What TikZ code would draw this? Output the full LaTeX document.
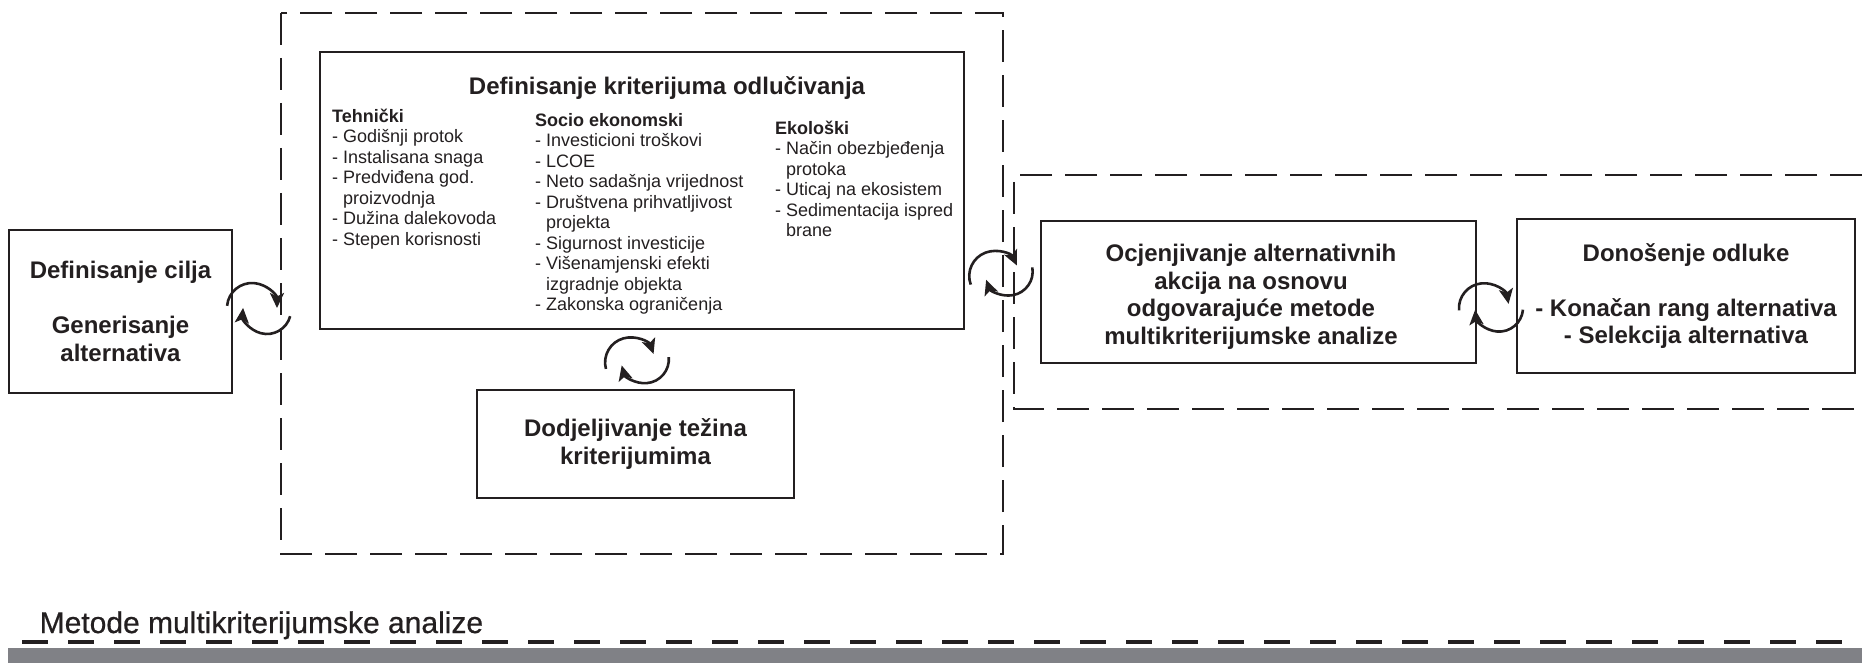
\documentclass[tikz,border=0pt]{standalone}
\usepackage{fontspec}
\setmainfont{Liberation Sans}
\usetikzlibrary{arrows.meta}

\definecolor{crna}{RGB}{35,31,32}
\definecolor{traka}{RGB}{128,129,134}

\begin{document}
\begin{tikzpicture}[x=1pt,y=-1pt,
  tekst/.style={inner sep=0pt, align=center, text=crna,
    font=\fontsize{24}{27.5}\selectfont\bfseries},
  kutija/.style={tekst, draw=crna, line width=2.5pt},
  okvir/.style={draw=crna, line width=2.5pt, dash pattern=on 32pt off 13pt},
  kolona/.style={anchor=north west, inner sep=0pt, align=left, text=crna,
    font=\fontsize{18}{20.5}\selectfont},
  ciklus/.pic={
    \draw[crna, line width=2.6pt, -{Stealth[length=15pt,width=14pt,inset=3.5pt]}]
      (-7pt,1pt) ++(175:25pt) arc[start angle=175, end angle=0, radius=25pt];
    \draw[crna, line width=2.6pt, -{Stealth[length=15pt,width=14pt,inset=3.5pt]}]
      (8pt,-1pt) ++(-15:24pt) arc[start angle=-15, end angle=-185, radius=24pt];
  }]
\useasboundingbox (0,0) rectangle (1862,663);
% 虚线框
\draw[okvir] (281,13) rectangle (1003,554);
\draw[okvir] (1862,175) -- (1014,175) -- (1014,409) -- (1862,409);
% 方框
\node[kutija, minimum width=223pt, minimum height=163pt] (cilj) at (120.5,311.5)
  {Definisanje cilja\\[27.5pt]Generisanje\\alternativa};
\node[kutija, minimum width=644pt, minimum height=277pt] (krit) at (642,190.5) {};
\node[kutija, minimum width=317pt, minimum height=108pt] (tez) at (635.5,444)
  {Dodjeljivanje težina\\kriterijumima};
\node[kutija, minimum width=435pt, minimum height=142pt] (ocj) at (1258.5,292) {};
\node[tekst] (ocjt) at (1251,297)
  {Ocjenjivanje alternativnih\\akcija na osnovu\\odgovarajuće metode\\multikriterijumske analize};
\node[kutija, minimum width=338pt, minimum height=154pt] (don) at (1686,296)
  {Donošenje odluke\\[27.5pt]- Konačan rang alternativa\\- Selekcija alternativa};
% 标准
\node[tekst, anchor=base] (naslov) at (667,95) {Definisanje kriterijuma odlučivanja};
\node[kolona] (teh) at (332,108.5) {\textbf{Tehnički}\\- Godišnji protok\\- Instalisana snaga\\- Predviđena god.\\\hspace*{11pt}proizvodnja\\- Dužina dalekovoda\\- Stepen korisnosti};
\node[kolona] (soc) at (535,113) {\textbf{Socio ekonomski}\\- Investicioni troškovi\\- LCOE\\- Neto sadašnja vrijednost\\- Društvena prihvatljivost\\\hspace*{11pt}projekta\\- Sigurnost investicije\\- Višenamjenski efekti\\\hspace*{11pt}izgradnje objekta\\- Zakonska ograničenja};
\node[kolona] (eko) at (775,120.5) {\textbf{Ekološki}\\- Način obezbjeđenja\\\hspace*{11pt}protoka\\- Uticaj na ekosistem\\- Sedimentacija ispred\\\hspace*{11pt}brane};
% 循环箭头
\pic at (259,309) {ciklus};
\pic[rotate=20] at (637,361) {ciklus};
\pic[rotate=25] at (1001,274) {ciklus};
\pic[rotate=10] at (1491,308) {ciklus};
% 底部
\node[anchor=base west, inner sep=0pt, text=crna,
  font=\fontsize{30}{36}\selectfont\addfontfeature{FakeBold=0.6}] (metode) at (39.5,633)
  {Metode multikriterijumske analize};
\draw[crna, line width=4pt, dash pattern=on 26pt off 20pt] (22,642) -- (1862,642);
\fill[traka] (8,648) rectangle (1862,663);
\end{tikzpicture}
\end{document}
